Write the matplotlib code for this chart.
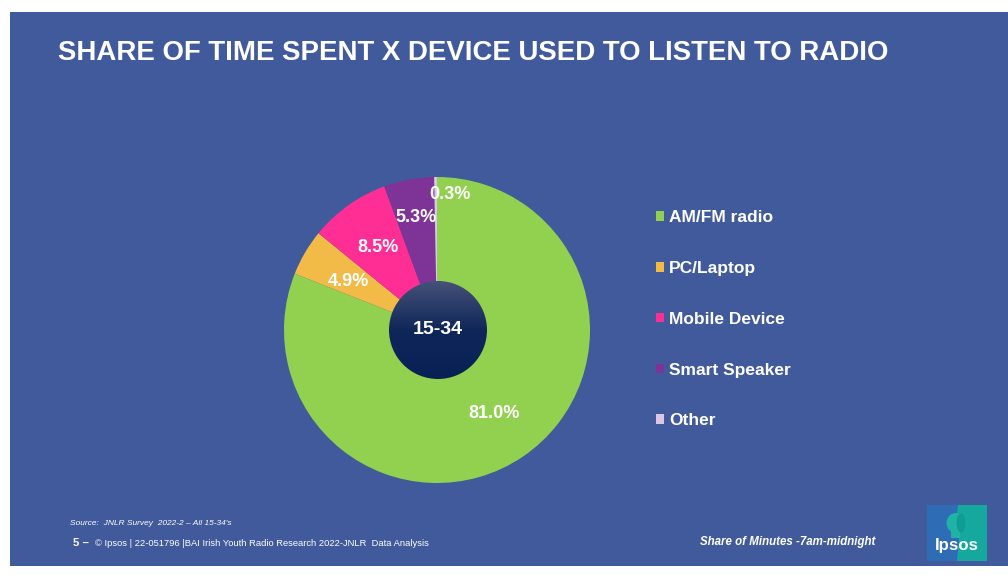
import matplotlib
matplotlib.use("Agg")
import matplotlib.pyplot as plt
import numpy as np
from matplotlib.patches import Rectangle, Circle, Polygon, Ellipse
from matplotlib import font_manager

# ---- data ----
devices = ["AM/FM radio", "PC/Laptop", "Mobile Device", "Smart Speaker", "Other"]
shares = [81.0, 4.9, 8.5, 5.3, 0.3]
colors = ["#92D050", "#F2BA47", "#FF2E94", "#7E3397", "#DCC6E6"]
age_group = "15-34"

title = "SHARE OF TIME SPENT X DEVICE USED TO LISTEN TO RADIO"
source_note = "Source:  JNLR Survey  2022-2 \u2013 All 15-34's"
page_no = "5 \u2013"
footer = "\u00a9 Ipsos | 22-051796 |BAI Irish Youth Radio Research 2022-JNLR  Data Analysis"
measure_note = "Share of Minutes -7am-midnight"

W, H = 1008, 575
BG = "#415A9B"

available = {f.name for f in font_manager.fontManager.ttflist}
SANS = "Liberation Sans" if "Liberation Sans" in available else "DejaVu Sans"
NARROW = "Liberation Sans Narrow" if "Liberation Sans Narrow" in available else SANS


def Y(y):
    # top-down pixel row -> axes y
    return H - y


fig = plt.figure(figsize=(W / 100, H / 100), dpi=100, facecolor="white")
ax = fig.add_axes([0, 0, 1, 1])
ax.set_xlim(0, W)
ax.set_ylim(0, H)
ax.axis("off")

# slide panel
ax.add_patch(Rectangle((10, Y(566)), W - 10, 566 - 12, facecolor=BG,
                       edgecolor="none", zorder=0))

renderer = fig.canvas.get_renderer()


def fit_width(txt, width):
    # scale a text's font size so its rendered width equals `width` pixels
    for _ in range(3):
        bb = txt.get_window_extent(renderer=renderer)
        txt.set_fontsize(txt.get_fontsize() * width / bb.width)


# title
t = ax.text(58, Y(60), title, color="white", fontsize=17, fontweight="bold",
            family=NARROW, ha="left", va="baseline")
fit_width(t, 830)

# ---- donut ----
cx, cy, R = 437, Y(330), 153
wedges, _ = ax.pie(shares, colors=colors, startangle=90, counterclock=False,
                   center=(cx, cy), radius=R, frame=True,
                   wedgeprops=dict(linewidth=0))
ax.set_xlim(0, W)
ax.set_ylim(0, H)
ax.axis("off")

label_radius = [0.66, 0.66, 0.66, 0.745, 0.90]
label_shift = [(0, 0), (-2, -3), (0, 0), (0, 0), (14, -2)]
for w, val, fr, (dx, dy) in zip(wedges, shares, label_radius, label_shift):
    ang = np.deg2rad((w.theta1 + w.theta2) / 2)
    x = cx + R * fr * np.cos(ang) + dx
    y = cy + R * fr * np.sin(ang) + dy
    ax.text(x, y, f"{val:.1f}%", color="white", fontsize=13,
            fontweight="bold", family=SANS, ha="center", va="center", zorder=5)

# centre disc with vertical gradient
r_in = 49
ccx, ccy = 438, Y(330)
stops = np.array([[0.27, 0.32, 0.47], [0.06, 0.15, 0.35], [0.03, 0.13, 0.33]])
tt = np.linspace(0, 1, 200)
grad = np.stack([np.interp(tt, [0, 0.5, 1], stops[:, k]) for k in range(3)], axis=1)
img = ax.imshow(grad[:, None, :], extent=(ccx - r_in, ccx + r_in, ccy - r_in, ccy + r_in),
                origin="upper", aspect="auto", zorder=3, interpolation="bilinear")
disc = Circle((ccx, ccy), r_in, facecolor="none", edgecolor="none", zorder=3)
ax.add_patch(disc)
img.set_clip_path(disc)
ax.set_xlim(0, W)
ax.set_ylim(0, H)
ax.text(ccx, ccy + 1, age_group, color="white", fontsize=14, fontweight="bold",
        family=SANS, ha="center", va="center", zorder=6)

# ---- legend ----
fs_leg = 12.5
fs_px = fs_leg * 100 / 72
leg = ax.legend(wedges, devices, loc="upper left",
                bbox_to_anchor=(656, Y(220) + 0.56 * fs_px),
                bbox_transform=ax.transData, frameon=False,
                prop=dict(family=SANS, weight="bold", size=fs_leg),
                labelcolor="white", handlelength=0.46, handleheight=0.46,
                handletextpad=0.3, labelspacing=2.06, borderpad=0,
                borderaxespad=0)

# ---- footer ----
s = ax.text(70, Y(525), source_note, color="white", fontsize=5.5,
            style="italic", family=NARROW, ha="left", va="baseline")
fit_width(s, 162)
p = ax.text(73, Y(546), page_no, color="white", fontsize=6.5,
            fontweight="bold", family=NARROW, ha="left", va="baseline")
fit_width(p, 16)
f = ax.text(95, Y(546), footer, color="white", fontsize=6.5,
            family=NARROW, ha="left", va="baseline")
fit_width(f, 333)
m = ax.text(700, Y(545), measure_note, color="white", fontsize=8,
            fontweight="bold", style="italic", family=SANS, ha="left",
            va="baseline")
fit_width(m, 175)

# ---- logo ----
lx0, lx1, ly0, ly1 = 927, 987, Y(561), Y(505)
ax.add_patch(Rectangle((lx0, ly0), lx1 - lx0, ly1 - ly0, facecolor="#2F6CB6",
                       edgecolor="none", zorder=2))
split = [(958, ly1), (lx1, ly1), (lx1, ly0), (957, ly0), (959, Y(540)), (956, Y(525))]
ax.add_patch(Polygon(split, closed=True, facecolor="#14A89F", edgecolor="none", zorder=2))
# head silhouette
ax.add_patch(Ellipse((956, Y(523)), 19, 20, facecolor="#1FB3A6", edgecolor="none", zorder=3))
ax.add_patch(Rectangle((951, Y(538)), 9, 7, facecolor="#1FB3A6", edgecolor="none", zorder=3))
ax.add_patch(Ellipse((961, Y(523)), 9, 19, facecolor="#0F9C93", edgecolor="none", zorder=3))
lg = ax.text(957, Y(550), "Ipsos", color="white", fontsize=12, fontweight="bold",
             family=SANS, ha="center", va="baseline", zorder=4)
fit_width(lg, 44)

fig.savefig("out.png", dpi=100, facecolor="white")
